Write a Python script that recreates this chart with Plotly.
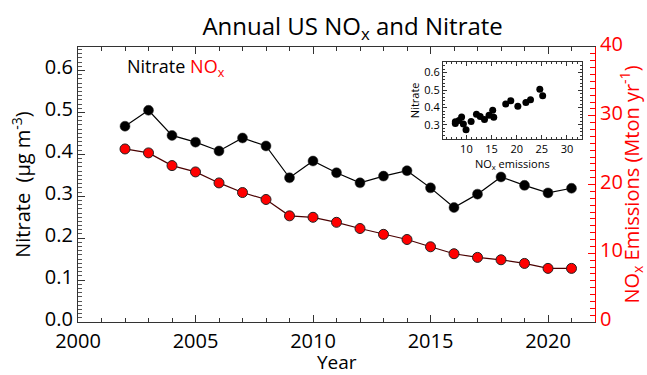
import plotly.graph_objects as go

# Annual mean values
years = list(range(2002, 2022))
nitrate = [0.467, 0.505, 0.445, 0.429, 0.408, 0.439, 0.420, 0.344, 0.384, 0.356,
           0.332, 0.348, 0.361, 0.320, 0.273, 0.305, 0.346, 0.326, 0.308, 0.319]
nox = [25.17, 24.60, 22.75, 21.83, 20.23, 18.83, 17.82, 15.44, 15.23, 14.50,
       13.60, 12.75, 12.00, 10.94, 9.93, 9.40, 9.05, 8.52, 7.80, 7.80]

x_ticks = [2000, 2005, 2010, 2015, 2020]
left_ticks = [0.0, 0.1, 0.2, 0.3, 0.4, 0.5, 0.6]
right_ticks = [0, 10, 20, 30, 40]
inset_x_ticks = [10, 15, 20, 25, 30]
inset_y_ticks = [0.3, 0.4, 0.5, 0.6]

FONT = "Open Sans"
RED = "#ff0000"

fig = go.Figure()

fig.add_trace(go.Scatter(
    x=years, y=nitrate, mode="lines+markers",
    line=dict(color="black", width=1.2),
    marker=dict(color="black", size=10, line=dict(color="#333333", width=0.5)),
    xaxis="x", yaxis="y", showlegend=False,
))
fig.add_trace(go.Scatter(
    x=years, y=nox, mode="lines+markers",
    line=dict(color="#4a0000", width=1.2),
    marker=dict(color=RED, size=10, line=dict(color="#222222", width=1)),
    xaxis="x", yaxis="y2", showlegend=False,
))
# inset: nitrate against emissions
fig.add_trace(go.Scatter(
    x=nox, y=nitrate, mode="markers",
    marker=dict(color="black", size=7),
    xaxis="x3", yaxis="y3", showlegend=False,
))

tick_font = dict(family=FONT, size=20, color="black")

fig.update_layout(
    width=647, height=375,
    margin=dict(l=78, r=52, t=47, b=53, autoexpand=False),
    paper_bgcolor="white", plot_bgcolor="white",
    font=dict(family=FONT, color="black"),
    title=dict(text="Annual US NO<sub>x</sub> and Nitrate", x=0.545, xanchor="center",
               y=0.93, yanchor="middle", font=dict(family=FONT, size=24, color="black")),
    xaxis=dict(
        range=[2000, 2022], tickvals=x_ticks, ticks="inside", ticklen=7, tickwidth=1,
        tickcolor="#333333", showline=True, linecolor="#333333", linewidth=1.2,
        mirror="ticks", showgrid=False, zeroline=False, tickfont=tick_font,
        ticklabelstandoff=1,
        minor=dict(dtick=1, ticks="inside", ticklen=4, tickcolor="#333333"),
    ),
    yaxis=dict(
        range=[0, 0.656], tickvals=left_ticks, tickformat=".1f", ticks="inside",
        ticklen=7, tickcolor="#333333", showline=True, linecolor="#333333",
        linewidth=1.2, showgrid=False, zeroline=False, tickfont=tick_font,
        ticklabelshift=-3,
        minor=dict(dtick=0.01, ticks="inside", ticklen=4, tickcolor="#555555"),
        title=dict(text="Nitrate  (\u00b5g m<sup>-3</sup>)", font=dict(family=FONT, size=20),
                   standoff=8),
    ),
    yaxis2=dict(
        overlaying="y", side="right", range=[0, 40], tickvals=right_ticks,
        ticks="inside", ticklen=7, tickcolor=RED, showline=True, linecolor=RED,
        linewidth=1.2, showgrid=False, zeroline=False,
        tickfont=dict(family=FONT, size=20, color=RED), ticklabelshift=-3,
        minor=dict(dtick=1, ticks="inside", ticklen=5, tickcolor=RED),
        title=dict(text="NO<sub>x</sub> Emissions (Mton yr<sup>-1</sup>)",
                   font=dict(family=FONT, size=20, color=RED), standoff=6),
    ),
    xaxis3=dict(
        domain=[0.706, 0.974], anchor="y3", range=[5.35, 32.9], tickvals=inset_x_ticks,
        ticks="inside", ticklen=4, tickcolor="#333333", showline=True,
        linecolor="#333333", linewidth=1, mirror="ticks", showgrid=False,
        zeroline=False, tickfont=dict(family=FONT, size=11),
        minor=dict(dtick=1, ticks="inside", ticklen=2, tickcolor="#333333"),
        title=dict(text="NO<sub>x</sub> emissions", font=dict(family=FONT, size=11), standoff=2),
    ),
    yaxis3=dict(
        domain=[0.667, 0.9455], anchor="x3", range=[0.222, 0.661], tickvals=inset_y_ticks,
        tickformat=".1f", ticks="inside", ticklen=4, tickcolor="#333333",
        showline=True, linecolor="#333333", linewidth=1, mirror="ticks",
        showgrid=False, zeroline=False, tickfont=dict(family=FONT, size=11),
        minor=dict(dtick=0.02, ticks="inside", ticklen=2, tickcolor="#333333"),
        title=dict(text="Nitrate", font=dict(family=FONT, size=11), standoff=2),
    ),
    annotations=[
        dict(text="Nitrate <span style='color:#ff0000'>NO<sub>x</sub></span>",
             xref="paper", yref="paper", x=0.09, y=0.925, xanchor="left",
             yanchor="middle", showarrow=False,
             font=dict(family=FONT, size=18, color="black")),
        # x-axis title placed below the tick labels
        dict(text="Year", xref="paper", yref="paper", x=0.5, y=-0.145,
             xanchor="center", yanchor="middle", showarrow=False,
             font=dict(family=FONT, size=19, color="black")),
    ],
)

fig.write_html("out.html")
